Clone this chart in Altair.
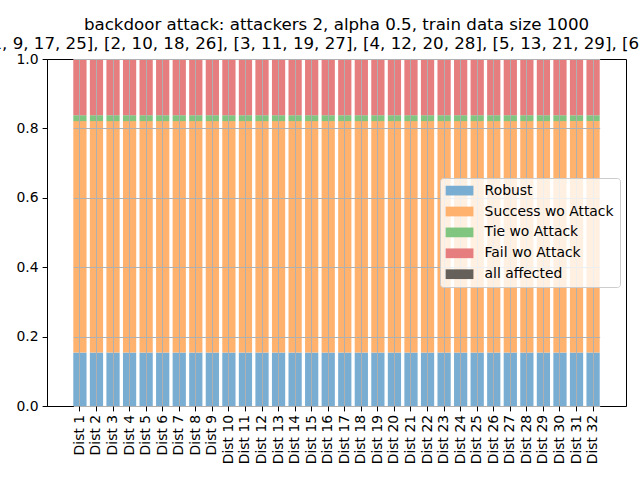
import altair as alt
import pandas as pd

# ---- data ----
dists = ["Dist 1", "Dist 2", "Dist 3", "Dist 4", "Dist 5", "Dist 6", "Dist 7", "Dist 8",
         "Dist 9", "Dist 10", "Dist 11", "Dist 12", "Dist 13", "Dist 14", "Dist 15", "Dist 16",
         "Dist 17", "Dist 18", "Dist 19", "Dist 20", "Dist 21", "Dist 22", "Dist 23", "Dist 24",
         "Dist 25", "Dist 26", "Dist 27", "Dist 28", "Dist 29", "Dist 30", "Dist 31", "Dist 32"]

series_names = ["Robust", "Success wo Attack", "Tie wo Attack", "Fail wo Attack", "all affected"]

robust = [0.154, 0.154, 0.154, 0.154, 0.154, 0.154, 0.154, 0.154,
          0.154, 0.154, 0.154, 0.154, 0.154, 0.154, 0.154, 0.154,
          0.154, 0.154, 0.154, 0.154, 0.154, 0.154, 0.154, 0.154,
          0.154, 0.154, 0.154, 0.154, 0.154, 0.154, 0.154, 0.154]
success = [0.667, 0.667, 0.667, 0.667, 0.667, 0.667, 0.667, 0.667,
           0.667, 0.667, 0.667, 0.667, 0.667, 0.667, 0.667, 0.667,
           0.667, 0.667, 0.667, 0.667, 0.667, 0.667, 0.667, 0.667,
           0.667, 0.667, 0.667, 0.667, 0.667, 0.667, 0.667, 0.667]
tie = [0.017, 0.017, 0.017, 0.017, 0.017, 0.017, 0.017, 0.017,
       0.017, 0.017, 0.017, 0.017, 0.017, 0.017, 0.017, 0.017,
       0.017, 0.017, 0.017, 0.017, 0.017, 0.017, 0.017, 0.017,
       0.017, 0.017, 0.017, 0.017, 0.017, 0.017, 0.017, 0.017]
fail = [0.162, 0.162, 0.162, 0.162, 0.162, 0.162, 0.162, 0.162,
        0.162, 0.162, 0.162, 0.162, 0.162, 0.162, 0.162, 0.162,
        0.162, 0.162, 0.162, 0.162, 0.162, 0.162, 0.162, 0.162,
        0.162, 0.162, 0.162, 0.162, 0.162, 0.162, 0.162, 0.162]
affected = [0.0, 0.0, 0.0, 0.0, 0.0, 0.0, 0.0, 0.0,
            0.0, 0.0, 0.0, 0.0, 0.0, 0.0, 0.0, 0.0,
            0.0, 0.0, 0.0, 0.0, 0.0, 0.0, 0.0, 0.0,
            0.0, 0.0, 0.0, 0.0, 0.0, 0.0, 0.0, 0.0]

y_ticks = [0.0, 0.2, 0.4, 0.6, 0.8, 1.0]

title_line1 = "backdoor attack: attackers 2, alpha 0.5, train data size 1000"
# leading zero-width space + non-breaking spaces keep the (clipped) second line's
# visible part where the reference shows it
title_line2 = ("\u200b" + "\u00a0" * 12 +
               "[[0, 8, 16, 24], [1, 9, 17, 25], [2, 10, 18, 26], [3, 11, 19, 27], "
               "[4, 12, 20, 28], [5, 13, 21, 29], [6, 14, 22, 30], [7, 15, 23, 31]]")

# ---- styles ----
colors = ["#79add2", "#ffb26e", "#80c680", "#e67d7e", "#66605a"]
FONT = "DejaVu Sans"
PLOT_W, PLOT_H = 579, 347
BAND_RANGE = [26.3, 552.7]   # bar band extent inside the plot (matplotlib-like margins)

values_by_series = [robust, success, tie, fail, affected]
rows = []
for si, (name, vals) in enumerate(zip(series_names, values_by_series)):
    for d, v in zip(dists, vals):
        rows.append({"dist": d, "series": name, "value": v, "order": si})
df = pd.DataFrame(rows)

chart = alt.Chart(df).mark_bar().encode(
    x=alt.X("dist:N", sort=dists,
            scale=alt.Scale(paddingInner=0.2, paddingOuter=0, range=BAND_RANGE),
            axis=alt.Axis(title=None, labelAngle=270, grid=True, gridColor="#b0b0b0",
                          gridWidth=1, tickColor="black", tickSize=4.9, tickWidth=1,
                          domain=False, labelColor="black",
                          labelFont=FONT, labelFontSize=13.9, labelPadding=3.5,
                          zindex=1)),
    y=alt.Y("value:Q", stack="zero",
            scale=alt.Scale(domain=[0, 1], nice=False, zero=True),
            axis=alt.Axis(title=None, values=y_ticks, format=".1f", grid=True,
                          gridColor="#b0b0b0", gridWidth=1, tickColor="black",
                          tickSize=4.9, tickWidth=1, domainColor="black", domainWidth=1,
                          labelColor="black", labelFont=FONT, labelFontSize=13.9,
                          labelPadding=4, zindex=1)),
    color=alt.Color("series:N",
                    scale=alt.Scale(domain=series_names, range=colors),
                    legend=alt.Legend(title=None, orient="none", legendX=393, legendY=119,
                                      symbolType="M-1,-0.7H3V0.7H-1Z", symbolSize=193,
                                      symbolStrokeWidth=0, symbolOpacity=1,
                                      labelFont=FONT, labelFontSize=13.9, labelColor="black",
                                      labelOffset=25, rowPadding=6.9, padding=5.6,
                                      fillColor="rgba(255,255,255,0.8)", strokeColor="#cccccc",
                                      cornerRadius=3, zindex=2)),
    order=alt.Order("order:Q"),
).properties(
    width=PLOT_W,
    height=PLOT_H,
    autosize=alt.AutoSizeParams(type="none"),
    padding={"left": 47, "top": 59, "right": 14, "bottom": 74},
    title=alt.TitleParams(text=[title_line1, title_line2], font=FONT, fontSize=16.67,
                          fontWeight="normal", color="black", anchor="middle",
                          frame="group", baseline="alphabetic", offset=-14,
                          lineHeight=19.4),
).configure_view(stroke="black", strokeWidth=1)

chart.save("out.html", embed_options={"renderer": "svg", "actions": False})
